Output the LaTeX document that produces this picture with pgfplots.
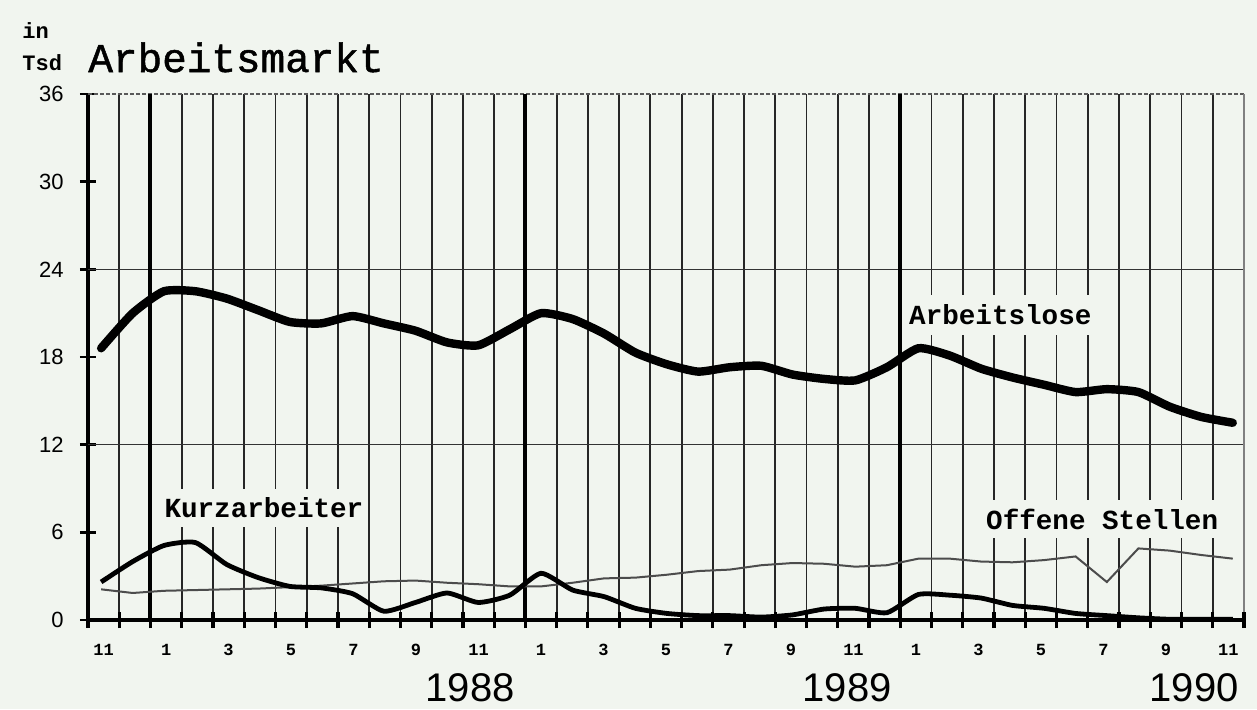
\documentclass[border=0pt]{standalone}
\usepackage{fontspec}
\setmainfont{Liberation Sans}
\newfontfamily\mono{Liberation Mono}
\newfontfamily\monotitle[FakeBold=1.2]{Liberation Mono}
\usepackage{pgfplots}
\usepackage{pgfplotstable}
\pgfplotsset{compat=1.18}
\definecolor{bgc}{RGB}{241,245,239}

\pgfplotstableread{
x     al    ka    os
0.42  18.6  2.6   2.1
1.43  21.0  4.0   1.85
2.43  22.5  5.1   2.0
3.44  22.5  5.3   2.05
4.44  22.0  3.8   2.1
5.45  21.2  2.9   2.15
6.46  20.4  2.3   2.25
7.46  20.3  2.2   2.35
8.47  20.8  1.8   2.5
9.47  20.3  0.6   2.65
10.48 19.8  1.2   2.7
11.49 19.0  1.85  2.55
12.49 18.8  1.2   2.45
13.50 19.9  1.7   2.3
14.50 21.0  3.2   2.3
15.51 20.6  2.05  2.55
16.52 19.6  1.6   2.85
17.52 18.3  0.8   2.9
18.53 17.5  0.45  3.1
19.53 17.0  0.3   3.35
20.54 17.3  0.3   3.45
21.55 17.4  0.2   3.75
22.55 16.8  0.35  3.9
23.56 16.5  0.75  3.85
24.56 16.4  0.8   3.65
25.57 17.3  0.5   3.75
26.58 18.6  1.75  4.2
27.58 18.1  1.7   4.2
28.59 17.2  1.5   4.0
29.59 16.6  1.0   3.95
30.60 16.1  0.8   4.1
31.61 15.6  0.45  4.35
32.61 15.8  0.3   2.6
33.62 15.6  0.15  4.9
34.62 14.6  0.05  4.75
35.63 13.9  0.05  4.45
36.64 13.5  0.05  4.2
}\data

\begin{document}
\begin{tikzpicture}
\path[fill=bgc, use as bounding box] (-44pt,-44.5pt) rectangle (584.5pt,310pt);
\begin{axis}[
  at={(0pt,0pt)}, anchor=south west,
  scale only axis, width=578pt, height=263pt,
  xmin=0, xmax=37, ymin=0, ymax=36,
  clip=false,
  axis x line*=bottom, axis y line*=left,
  axis line style={black, line width=2pt},
  tick align=center,
  major tick length=8pt,
  tick style={black, line width=1.2pt},
  xtick={0,...,37}, xticklabels={},
  xmajorgrids,
  major x grid style={black!85, line width=0.9pt},
  extra x ticks={0.5,2.5,...,36.5},
  extra x tick labels={11,1,3,5,7,9,11,1,3,5,7,9,11,1,3,5,7,9,11},
  extra x tick style={grid=none, major tick length=0pt},
  xticklabel style={font=\mono\bfseries\fontsize{8.5}{8.5}\selectfont, anchor=center, yshift=-15pt},
  ytick={0,6,...,36},
  yticklabel style={font=\fontsize{11}{11}\selectfont, anchor=east, inner sep=0pt, xshift=-8pt},
  /pgf/number format/assume math mode=true,
]
% horizontal lines
\draw[black!80, line width=0.7pt] (axis cs:0,12) -- (axis cs:37,12);
\draw[black!80, line width=0.7pt] (axis cs:0,24) -- (axis cs:37,24);
\draw[gray!70!black, line width=0.8pt, dash pattern=on 2pt off 1pt] (axis cs:0,36) -- (axis cs:37,36);
\draw[gray, line width=0.6pt] (axis cs:37,0) -- (axis cs:37,36);
% year lines
\draw[black, line width=2pt] (axis cs:2,0) -- (axis cs:2,36);
\draw[black, line width=2pt] (axis cs:14,0) -- (axis cs:14,36);
\draw[black, line width=2pt] (axis cs:26,0) -- (axis cs:26,36);
% month tick crosses on the time axis
\pgfplotsinvokeforeach{0,...,37}{
  \draw[black, line width=1.6pt] (axis cs:#1,0) ++(0pt,-4pt) -- ++(0pt,8pt);
}

\addplot[black!70, line width=1pt, sharp plot, mark=none] table[x=x,y=os]{\data};
\addplot[black, line width=2.4pt, smooth, tension=0.35, mark=none, line join=round] table[x=x,y=ka]{\data};
\addplot[black, line width=4.2pt, smooth, tension=0.35, mark=none, line join=round, line cap=round] table[x=x,y=al]{\data};

\node[fill=bgc, inner xsep=2pt, inner ysep=0pt, minimum height=19pt, font=\mono\bfseries\fontsize{13.8}{14}\selectfont] at (axis cs:5.63,7.7) {Kurzarbeiter};
\node[fill=bgc, inner xsep=2pt, inner ysep=0pt, minimum height=20pt, font=\mono\bfseries\fontsize{13.8}{14}\selectfont] at (axis cs:29.2,20.9) {Arbeitslose};
\node[fill=bgc, inner xsep=2pt, inner ysep=0pt, minimum height=19pt, font=\mono\bfseries\fontsize{13.8}{14}\selectfont] at (axis cs:32.46,6.9) {Offene Stellen};

\node[yshift=-34pt, font=\fontsize{20}{20}\selectfont] at (axis cs:12.23,0) {1988};
\node[yshift=-34pt, font=\fontsize{20}{20}\selectfont] at (axis cs:24.3,0) {1989};
\node[yshift=-34pt, font=\fontsize{20}{20}\selectfont] at (axis cs:35.4,0) {1990};

\node[anchor=base west, inner sep=0pt, yshift=11pt, font=\monotitle\fontsize{20.5}{20.5}\selectfont] at (rel axis cs:0,1) {Arbeitsmarkt};
\node[anchor=base west, inner sep=0pt, xshift=-33pt, yshift=12pt, font=\mono\bfseries\fontsize{11}{11}\selectfont] at (rel axis cs:0,1) {Tsd};
\node[anchor=base west, inner sep=0pt, xshift=-33pt, yshift=28pt, font=\mono\bfseries\fontsize{11}{11}\selectfont] at (rel axis cs:0,1) {in};
\end{axis}
\end{tikzpicture}
\end{document}
